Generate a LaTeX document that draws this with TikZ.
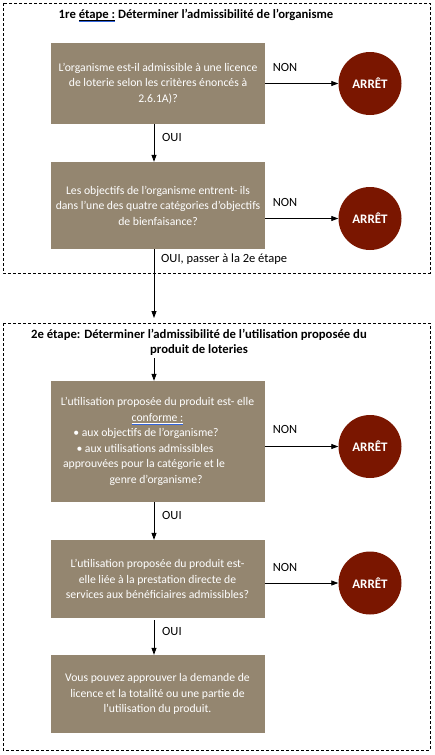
\documentclass[tikz,border=0pt]{standalone}
\usepackage{fontspec}
\setmainfont{Carlito}
\usetikzlibrary{arrows.meta}
\definecolor{boxfill}{RGB}{148,134,112}
\definecolor{stopred}{RGB}{122,22,0}
\definecolor{ulblue}{RGB}{50,100,220}
\newcommand{\ulblue}[1]{\setbox0=\hbox{#1}\leavevmode\rlap{\usebox0}\rlap{\rule[-1.8pt]{\wd0}{0.5pt}}{\color{ulblue}\rule[-3.1pt]{\wd0}{0.8pt}}}
\newcommand{\padr}[1]{\makebox[#1]{}}
\begin{document}
\begin{tikzpicture}[x=1pt,y=-1pt,
  qbox/.style={rectangle,fill=boxfill,text=white,minimum width=214pt,align=center,inner sep=0pt,font=\fontsize{11.7}{15.5}\selectfont},
  stopc/.style={circle,fill=stopred,text=white,minimum size=63pt,inner sep=0pt,font=\fontsize{13}{14}\selectfont\bfseries},
  arr/.style={line width=0.8pt,-{Triangle[length=7pt,width=5pt]}},
  lbl/.style={font=\fontsize{12.5}{14}\selectfont,inner sep=0pt},
  ttl/.style={font=\fontsize{12.7}{15}\selectfont\bfseries,align=center,inner sep=0pt},
  dashbox/.style={line width=0.7pt,dash pattern=on 3pt off 2pt}]
\useasboundingbox (0,0) rectangle (434,755);
\draw[dashbox] (3,3) rectangle (430,273);
\draw[dashbox] (3,323) rectangle (430,750);
% titles
\node[ttl] (t1) at (196,15.5) {1re \ulblue{étape :} Déterminer l’admissibilité de l’organisme};
\node[ttl] (t2) at (199,342.5) {2e étape: Déterminer l’admissibilité de l’utilisation proposée du\\produit de loteries};
% boxes
\node[qbox,minimum height=81pt] (r1) at (158,83.5) {L’organisme est-il admissible à une licence\\de loterie selon les critères énoncés à\\2.6.1A)?};
\node[qbox,minimum height=87pt] (r2) at (158,205.5) {Les objectifs de l’organisme entrent- ils\\dans l’une des quatre catégories d’objectifs\\de bienfaisance?};
\node[qbox,minimum height=121pt] (r3) at (157.5,441.5) {L’utilisation proposée du produit est- elle\\\ulblue{conforme :}\\• aux objectifs de l’organisme?\padr{23pt}\\• aux utilisations admissibles\padr{25pt}\\approuvées pour la catégorie et le\padr{27pt}\\genre d’organisme?\padr{3pt}};
\node[qbox,minimum height=78pt] (r4) at (157.5,579) {L’utilisation proposée du produit est-\\elle liée à la prestation directe de\\services aux bénéficiaires admissibles?};
\node[qbox,minimum height=78pt] (r5) at (157.5,694) {Vous pouvez approuver la demande de\\licence et la totalité ou une partie de\\l’utilisation du produit.};
% stops
\node[stopc] (c1) at (370,83.5) {ARRÊT};
\node[stopc] (c2) at (370,218.5) {ARRÊT};
\node[stopc] (c3) at (370,446.5) {ARRÊT};
\node[stopc] (c4) at (370,583) {ARRÊT};
% NON arrows
\draw[arr] (r1.east |- c1) -- (c1.west);
\draw[arr] (r2.east |- c2) -- (c2.west);
\draw[arr] (r3.east |- c3) -- (c3.west);
\draw[arr] (r4.east |- c4) -- (c4.west);
\node[lbl] (n1) at (285,67) {NON};
\node[lbl] (n2) at (285,202) {NON};
\node[lbl] (n3) at (285,429) {NON};
\node[lbl] (n4) at (285,567) {NON};
% OUI arrows
\coordinate (x1) at (154,0);
\draw[arr] (r1.south -| x1) -- (r2.north -| x1);
\coordinate (a2end) at (154,318);
\draw[arr] (r2.south -| x1) -- (a2end);
\coordinate (t2b) at (154,358);
\draw[arr] (t2b) -- (r3.north -| t2b);
\draw[arr] (r3.south -| x1) -- (r4.north -| x1);
\coordinate (r4b) at (154,620);
\draw[arr] (r4b) -- (r5.north -| r4b);
\node[lbl,anchor=west] (o1) at (162,137) {OUI};
\node[lbl,anchor=west] (o2) at (161,259) {OUI, passer à la 2e étape};
\node[lbl,anchor=west] (o3) at (162,515) {OUI};
\node[lbl,anchor=west] (o4) at (162,631) {OUI};
\end{tikzpicture}
\end{document}
